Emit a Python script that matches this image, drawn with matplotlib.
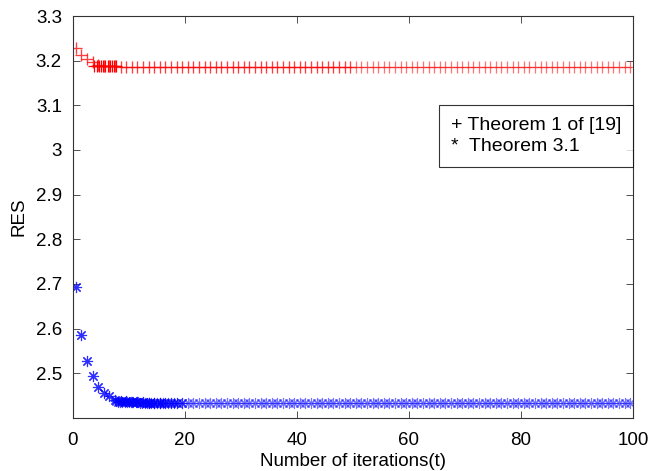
import numpy as np
import matplotlib
matplotlib.use("Agg")
import matplotlib.pyplot as plt
from matplotlib.lines import Line2D

plt.rcParams['font.family'] = ['Liberation Sans', 'DejaVu Sans']

# -----------------------------------------------------------------------------
# data
t = np.arange(0.5, 100.5, 1.0)           # iteration index as plotted

# Theorem 1 of [19]  (red +)
res_thm1_head = [3.228, 3.212, 3.203, 3.196, 3.190, 3.188, 3.187, 3.187]
res_thm1_tail = [3.186] * (len(t) - len(res_thm1_head))
res_thm1 = res_thm1_head + res_thm1_tail

# Theorem 3.1  (blue *)
res_thm31_head = [2.693, 2.586, 2.527, 2.493, 2.469, 2.455, 2.448, 2.441,
                  2.438, 2.437, 2.436, 2.435, 2.435, 2.434, 2.434, 2.434,
                  2.434, 2.434, 2.433]
res_thm31_tail = [2.433] * (len(t) - len(res_thm31_head))
res_thm31 = res_thm31_head + res_thm31_tail

# finer samples where the markers pile up
t_fine_red = [3.8, 4.2, 4.6, 5.0, 5.4, 5.8, 6.2, 6.6, 7.0, 7.4, 7.7]
res_fine_red = [3.188] * len(t_fine_red)
t_fine_blue = [7.6, 8.0, 8.4, 8.8, 9.2, 9.6, 10.0, 10.4, 10.8, 11.2, 11.6, 12.0,
               12.4, 12.8, 13.2, 13.6, 14.0, 14.5, 15.0, 15.5, 16.0, 17.0, 18.0]
res_fine_blue = [2.437, 2.436, 2.436, 2.436, 2.435, 2.435, 2.435, 2.435, 2.435,
                 2.435, 2.435, 2.434, 2.434, 2.434, 2.434, 2.434, 2.434, 2.434,
                 2.434, 2.434, 2.433, 2.433, 2.433]

# -----------------------------------------------------------------------------
fig = plt.figure(figsize=(6.5, 4.71), dpi=100)
ax = fig.add_axes([0.1123, 0.1132, 0.8615, 0.8528])

red = (1.0, 0.0, 0.0)
blue = (0.0, 0.0, 1.0)
asterisk = (8, 2, 0)

ax.plot(t, res_thm1, linestyle='none', marker='+', markersize=8, mew=0.9,
        color=red, alpha=0.55)
ax.plot(t[:50], res_thm1[:50], linestyle='none', marker='+', markersize=8,
        mew=0.9, color=red, alpha=0.45)
ax.plot(t_fine_red, res_fine_red, linestyle='none', marker='+', markersize=8,
        mew=0.9, color=red)

ax.plot(t, res_thm31, linestyle='none', marker=asterisk, markersize=8, mew=0.8,
        color=blue, alpha=0.55)
ax.plot(t[:20], res_thm31[:20], linestyle='none', marker=asterisk, markersize=8,
        mew=0.8, color=blue, alpha=0.6)
ax.plot(t_fine_blue, res_fine_blue, linestyle='none', marker=asterisk,
        markersize=8, mew=0.8, color=blue, alpha=0.7)

ax.set_xlim(0, 100)
ax.set_ylim(2.4005, 3.3)
ax.set_xticks([0, 20, 40, 60, 80, 100])
ax.set_yticks([2.5, 2.6, 2.7, 2.8, 2.9, 3.0, 3.1, 3.2, 3.3])
ax.set_yticklabels(['2.5', '2.6', '2.7', '2.8', '2.9', '3', '3.1', '3.2', '3.3'])
ax.tick_params(direction='in', top=True, right=True, labelsize=13.5, length=5,
               width=0.6, color='#333333')
ax.tick_params(axis='x', pad=10)
ax.tick_params(axis='y', pad=8)
for s in ax.spines.values():
    s.set_linewidth(0.8)
    s.set_color('#333333')

ax.set_xlabel('Number of iterations(t)', fontsize=13.5, labelpad=3)
ax.set_ylabel('RES', fontsize=13.5, labelpad=6)

blank = [Line2D([], [], linestyle='none'), Line2D([], [], linestyle='none')]
leg = ax.legend(blank, ['+ Theorem 1 of [19]', '*  Theorem 3.1'],
                loc='upper right', bbox_to_anchor=(1.0, 0.778),
                handlelength=0, handletextpad=0, fontsize=14,
                frameon=True, fancybox=False, borderpad=0.6,
                labelspacing=0.15, borderaxespad=0)
leg.get_frame().set_edgecolor('black')
leg.get_frame().set_linewidth(0.8)

fig.savefig('out.png', dpi=100)
